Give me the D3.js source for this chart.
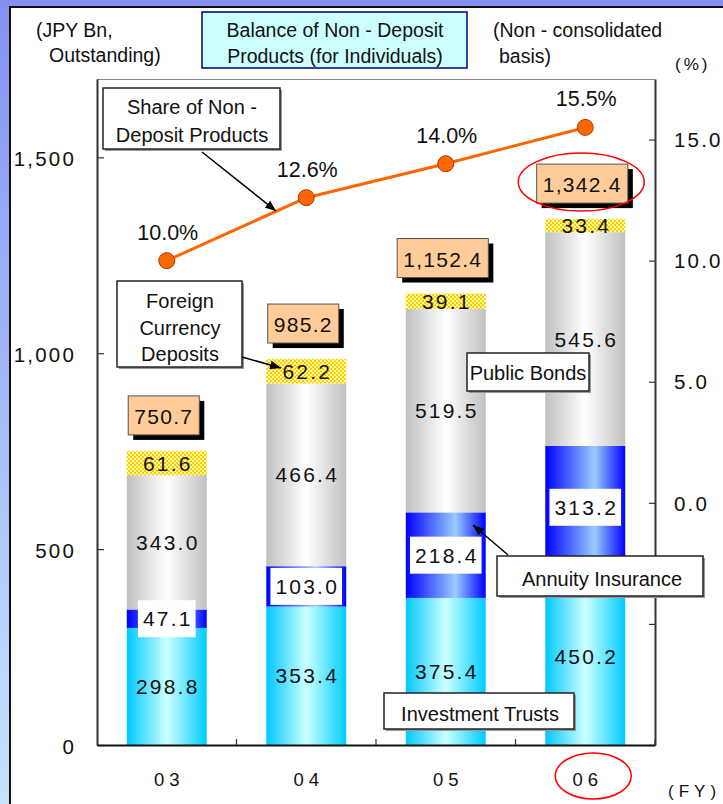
<!DOCTYPE html>
<html><head><meta charset="utf-8">
<script src="https://cdn.jsdelivr.net/npm/d3@7"></script>
<style>
html,body{margin:0;padding:0;background:#fff;}
svg{display:block;font-family:"Liberation Sans",Arial,sans-serif;}
</style></head><body>
<svg id="chart" width="723" height="804"></svg>
<script>
// Balance of non-deposit products for individuals (JPY Bn, outstanding)
const years = ["03", "04", "05", "06"];
const yearLabels = ["0 3", "0 4", "0 5", "0 6"];
const investmentTrusts = [298.8, 353.4, 375.4, 450.2];
const annuityInsurance = [47.1, 103.0, 218.4, 313.2];
const publicBonds = [343.0, 466.4, 519.5, 545.6];
const foreignCurrency = [61.6, 62.2, 39.1, 33.4];
const totals = [750.7, 985.2, 1152.4, 1342.4];
const sharePct = [10.0, 12.6, 14.0, 15.5];
const leftTicks = [0, 500, 1000, 1500];
const rightTicks = [-10, -5, 0, 5, 10, 15];

const svg = d3.select("#chart");
const W = 723, H = 804;
const plot = {left: 97, right: 655, top: 79, bottom: 745};

const defs = svg.append("defs");
function hGrad(id, stops) {
  const g = defs.append("linearGradient").attr("id", id)
    .attr("x1", "0").attr("x2", "1").attr("y1", "0").attr("y2", "0");
  stops.forEach(([o, c]) => g.append("stop").attr("offset", o).attr("stop-color", c));
}
hGrad("gTrust", [[0, "#00c8ff"], [0.5, "#ccffff"], [1, "#00ccff"]]);
hGrad("gAnnuity", [[0, "#0000ff"], [0.62, "#99ccff"], [1, "#0000ff"]]);
hGrad("gBonds", [[0, "#c0c0c0"], [0.5, "#ffffff"], [1, "#c0c0c0"]]);
const bg = defs.append("linearGradient").attr("id", "gBand")
  .attr("x1", "0").attr("x2", "0").attr("y1", "0").attr("y2", "1");
bg.append("stop").attr("offset", 0).attr("stop-color", "#8690f3");
bg.append("stop").attr("offset", 1).attr("stop-color", "#c8e4fc");
const pat = defs.append("pattern").attr("id", "pCheck")
  .attr("width", 4).attr("height", 4).attr("patternUnits", "userSpaceOnUse");
pat.append("rect").attr("width", 4).attr("height", 4).attr("fill", "#ffcc00");
pat.append("rect").attr("width", 2).attr("height", 2).attr("fill", "#ffffa0");
pat.append("rect").attr("x", 2).attr("y", 2).attr("width", 2).attr("height", 2).attr("fill", "#ffffa0");
defs.append("marker").attr("id", "arrow").attr("viewBox", "0 0 10 8")
  .attr("refX", 10).attr("refY", 4).attr("markerWidth", 11).attr("markerHeight", 9)
  .attr("markerUnits", "userSpaceOnUse").attr("orient", "auto")
  .append("path").attr("d", "M0,0L10,4L0,8z").attr("fill", "#000");

// slide frame
svg.append("rect").attr("width", W).attr("height", H).attr("fill", "#fff");
svg.append("rect").attr("x", 0).attr("y", 0).attr("width", 10).attr("height", H).attr("fill", "url(#gBand)");
svg.append("rect").attr("x", 0).attr("y", 0).attr("width", W).attr("height", 6).attr("fill", "#8690f3");
svg.append("line").attr("x1", 10).attr("x2", 10).attr("y1", 6).attr("y2", H).attr("stroke", "#111").attr("stroke-width", 2);
svg.append("line").attr("x1", 10).attr("x2", W).attr("y1", 7).attr("y2", 7).attr("stroke", "#111").attr("stroke-width", 2);

// scales
const x = d3.scaleBand().domain(years).range([plot.left, plot.right])
  .paddingInner(0.427).paddingOuter(0.2135);
const y = d3.scaleLinear().domain([0, 1700]).range([plot.bottom, plot.top]);
const yR = d3.scaleLinear().domain([-10, 17.5]).range([plot.bottom, plot.top]);

// plot frame top
svg.append("line").attr("x1", plot.left).attr("x2", plot.right)
  .attr("y1", plot.top + 0.5).attr("y2", plot.top + 0.5).attr("stroke", "#888").attr("stroke-width", 1);

// stacked bars
const series = [
  {key: "trust", values: investmentTrusts, fill: "url(#gTrust)", boxed: false},
  {key: "annuity", values: annuityInsurance, fill: "url(#gAnnuity)", boxed: true},
  {key: "bonds", values: publicBonds, fill: "url(#gBonds)", boxed: false},
  {key: "fx", values: foreignCurrency, fill: "url(#pCheck)", boxed: false}
];
const rows = years.map((yr, i) => {
  const r = {year: yr};
  series.forEach(s => r[s.key] = s.values[i]);
  return r;
});
const stacked = d3.stack().keys(series.map(s => s.key))(rows);

const barG = svg.append("g");
stacked.forEach((layer, li) => {
  barG.append("g").selectAll("rect").data(layer).join("rect")
    .attr("x", d => x(d.data.year))
    .attr("width", x.bandwidth())
    .attr("y", d => y(d[1]))
    .attr("height", d => y(d[0]) - y(d[1]))
    .attr("fill", series[li].fill);
});

// segment value labels
const valG = svg.append("g");
stacked.forEach((layer, li) => {
  layer.forEach((d, i) => {
    const cx = x(d.data.year) + x.bandwidth() / 2;
    const cy = (y(d[0]) + y(d[1])) / 2;
    const g = valG.append("g");
    const t = g.append("text").attr("x", cx + 1).attr("y", cy + 7.5)
      .attr("text-anchor", "middle").attr("font-size", 21).attr("letter-spacing", 2.2)
      .attr("fill", "#111").text(d3.format(".1f")(series[li].values[i]));
    if (series[li].boxed) {
      const b = t.node().getBBox();
      g.insert("rect", "text").attr("x", cx - (b.width + 8) / 2).attr("y", cy - 18.5)
        .attr("width", b.width + 8).attr("height", 37).attr("fill", "#fff");
    }
  });
});

// totals in boxes
const totG = svg.append("g");
totals.forEach((v, i) => {
  const cx = x(years[i]) + x.bandwidth() / 2 - 3;
  const bottom = y(v) - 16;
  const g = totG.append("g");
  const t = g.append("text").attr("x", cx).attr("y", bottom - 11)
    .attr("text-anchor", "middle").attr("font-size", 21).attr("letter-spacing", 1.3)
    .attr("fill", "#111").text(d3.format(",.1f")(v));
  const w = t.node().getBBox().width + 12, h = 39;
  g.insert("rect", "text").attr("x", cx - w / 2 + 5).attr("y", bottom - h + 5)
    .attr("width", w).attr("height", h).attr("fill", "#000");
  g.insert("rect", "text").attr("x", cx - w / 2).attr("y", bottom - h)
    .attr("width", w).attr("height", h).attr("fill", "#ffcc99")
    .attr("stroke", "#555").attr("stroke-width", 1);
});

// axes
const axL = svg.append("g").attr("transform", `translate(${plot.left},0)`)
  .call(d3.axisLeft(y).tickValues(leftTicks).tickFormat(d3.format(","))
    .tickSizeInner(-7).tickSizeOuter(0).tickPadding(21));
const axR = svg.append("g").attr("transform", `translate(${plot.right},0)`)
  .call(d3.axisRight(yR).tickValues(rightTicks).tickFormat(d => d >= 0 ? d3.format(".1f")(d) : "")
    .tickSizeInner(-6).tickSizeOuter(0).tickPadding(19));
[axL, axR].forEach(a => {
  a.select(".domain").attr("stroke", "#333").attr("stroke-width", 2);
  a.selectAll(".tick line").attr("stroke", "#333").attr("stroke-width", 1.2);
  a.selectAll(".tick text").attr("font-size", 20.5).attr("letter-spacing", 2.2)
    .attr("fill", "#111").attr("font-family", "Liberation Sans, Arial, sans-serif");
});
axL.selectAll(".tick text").attr("dy", "0.42em");
axR.selectAll(".tick text").attr("dy", "0.35em");

// baseline and category boundaries
const axB = svg.append("g").attr("transform", `translate(0,${plot.bottom})`)
  .call(d3.axisBottom(x).tickFormat((d, i) => yearLabels[i]).tickSize(0).tickPadding(28));
axB.select(".domain").attr("stroke", "#111").attr("stroke-width", 2);
axB.selectAll(".tick text").attr("font-size", 18.5).attr("fill", "#111")
  .attr("font-family", "Liberation Sans, Arial, sans-serif");
const bounds = years.map(yr => x(yr) + x.bandwidth() + (x.step() - x.bandwidth()) / 2);
svg.append("g").selectAll("line").data(bounds).join("line")
  .attr("x1", d => d).attr("x2", d => d)
  .attr("y1", plot.bottom).attr("y2", plot.bottom - 6)
  .attr("stroke", "#333").attr("stroke-width", 1.2);

// share line
const pts = sharePct.map((p, i) => [x(years[i]) + x.bandwidth() / 2, yR(p), p]);
svg.append("path").datum(pts)
  .attr("d", d3.line().x(d => d[0]).y(d => d[1]))
  .attr("fill", "none").attr("stroke", "#ff6600").attr("stroke-width", 3);
svg.append("g").selectAll("circle").data(pts).join("circle")
  .attr("cx", d => d[0]).attr("cy", d => d[1]).attr("r", 8)
  .attr("fill", "#ff6600").attr("stroke", "#a33a00").attr("stroke-width", 1);
svg.append("g").selectAll("text").data(pts).join("text")
  .attr("x", d => d[0] + 1).attr("y", d => d[1] - 21)
  .attr("text-anchor", "middle").attr("font-size", 21.5).attr("fill", "#111")
  .text(d => d3.format(".1f")(d[2]) + "%");

// callout boxes
function callout(x0, y0, w, h, lines, opts) {
  const g = svg.append("g");
  g.append("rect").attr("x", x0 + 2).attr("y", y0 + 2).attr("width", w).attr("height", h).attr("fill", "#999");
  g.append("rect").attr("x", x0).attr("y", y0).attr("width", w).attr("height", h)
    .attr("fill", "#fff").attr("stroke", "#222").attr("stroke-width", 1.5);
  lines.forEach((l, i) => {
    g.append("text").attr("x", opts.tx).attr("y", opts.ty + i * opts.lh)
      .attr("text-anchor", opts.anchor || "middle").attr("font-size", opts.fs || 20)
      .attr("fill", "#111").text(l);
  });
}
function arrow(x1, y1, x2, y2) {
  svg.append("line").attr("x1", x1).attr("y1", y1).attr("x2", x2).attr("y2", y2)
    .attr("stroke", "#000").attr("stroke-width", 1.5).attr("marker-end", "url(#arrow)");
}
callout(103, 88, 177, 61, ["Share of Non -", "Deposit Products"], {tx: 192, ty: 114, lh: 28});
arrow(202, 152, 276, 211);
callout(117, 281, 125, 86, ["Foreign", "Currency", "Deposits"], {tx: 180, ty: 308, lh: 26.5});
arrow(242, 357, 281, 368);
callout(467, 353, 122, 38, ["Public Bonds"], {tx: 528, ty: 380, lh: 0});
callout(497, 556, 206, 40, ["Annuity Insurance"], {tx: 602, ty: 586, lh: 0});
arrow(508, 555, 473, 525);
callout(384, 693, 190, 36, ["Investment Trusts"], {tx: 480, ty: 721, lh: 0});

// highlight ellipses on the latest year
const lastX = x(years[3]) + x.bandwidth() / 2;
svg.append("ellipse").attr("cx", lastX - 4).attr("cy", y(totals[3]) - 37).attr("rx", 63).attr("ry", 29)
  .attr("fill", "none").attr("stroke", "#ff0000").attr("stroke-width", 1.5);
svg.append("ellipse").attr("cx", lastX + 8).attr("cy", 776).attr("rx", 38).attr("ry", 23)
  .attr("fill", "none").attr("stroke", "#ff0000").attr("stroke-width", 1.5);

// header texts
const hdr = svg.append("g").attr("font-size", 19.5).attr("fill", "#111");
hdr.append("text").attr("x", 36).attr("y", 37).text("(JPY Bn,");
hdr.append("text").attr("x", 49).attr("y", 62).text("Outstanding)");
hdr.append("rect").attr("x", 202).attr("y", 12).attr("width", 265).attr("height", 56)
  .attr("fill", "#ccffff").attr("stroke", "#000080").attr("stroke-width", 1.5);
hdr.append("text").attr("x", 335).attr("y", 37).attr("text-anchor", "middle").text("Balance of Non - Deposit");
hdr.append("text").attr("x", 335).attr("y", 63).attr("text-anchor", "middle").text("Products (for Individuals)");
hdr.append("text").attr("x", 493).attr("y", 37).text("(Non - consolidated");
hdr.append("text").attr("x", 499).attr("y", 63).text("basis)");
hdr.append("text").attr("x", 675).attr("y", 70).attr("font-size", 17).attr("letter-spacing", 3).text("(%)");
hdr.append("text").attr("x", 668).attr("y", 797).attr("font-size", 17).attr("letter-spacing", 5).text("(FY)");
</script>
</body></html>
